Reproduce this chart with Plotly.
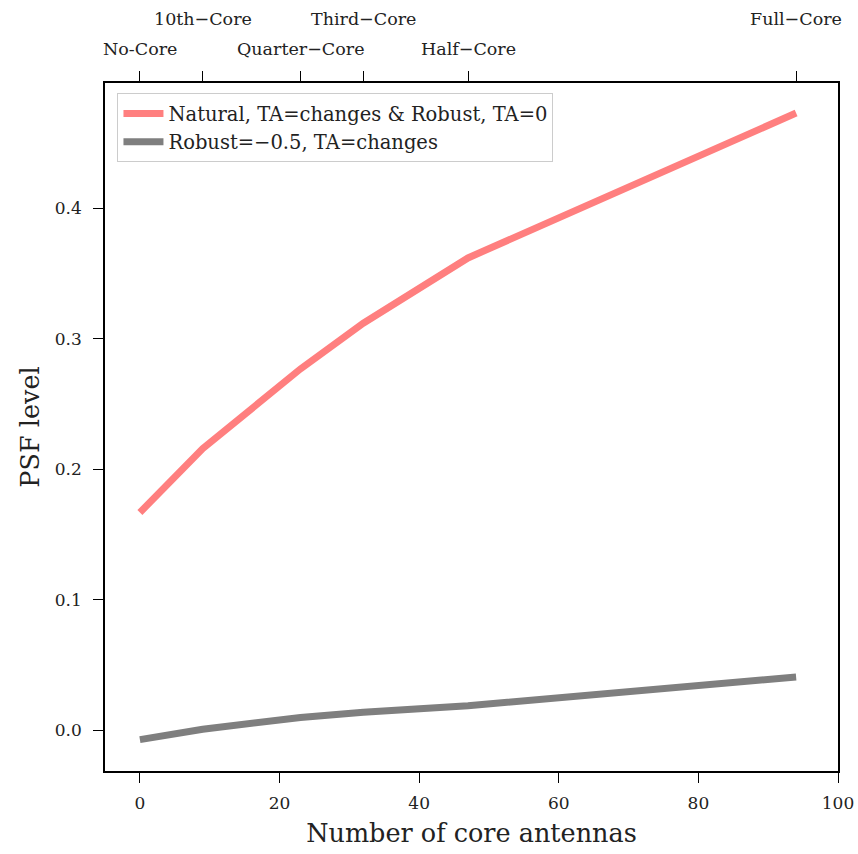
import plotly.graph_objects as go

# Number of core antennas at each configuration
n_core = [0, 9, 23, 32, 47, 94]
config_labels = ["No-Core", "10th\u2212Core", "Quarter\u2212Core", "Third\u2212Core", "Half\u2212Core", "Full\u2212Core"]

# PSF level for each weighting scheme
psf_natural = [0.167, 0.216, 0.277, 0.312, 0.362, 0.473]
psf_robust = [-0.007, 0.001, 0.010, 0.014, 0.019, 0.041]

series_names = ["Natural, TA=changes &amp; Robust, TA=0", "Robust=\u22120.5, TA=changes"]
series_colors = ["#ff7f7f", "#7f7f7f"]

FONT = "DejaVu Serif"

fig = go.Figure()
for yv, name, col in zip([psf_natural, psf_robust], series_names, series_colors):
    fig.add_trace(go.Scatter(x=n_core, y=yv, mode="lines", name=name,
                             line=dict(color=col, width=7)))

# invisible trace to activate the top axis
fig.add_trace(go.Scatter(x=n_core, y=psf_natural, xaxis="x2", mode="lines",
                         line=dict(width=0), showlegend=False, hoverinfo="skip",
                         opacity=0))

axis_common = dict(showline=True, linecolor="black", linewidth=1.5,
                   ticks="outside", ticklen=10, tickwidth=1.2, tickcolor="black",
                   showgrid=False, zeroline=False, automargin=False)
tick_font = dict(family=FONT, size=17, color="#222")

fig.update_layout(
    width=858, height=854,
    margin=dict(l=105, r=20, t=83, b=83),
    paper_bgcolor="white", plot_bgcolor="white",
    font=dict(family=FONT, color="#222"),
    xaxis=dict(range=[-5, 100], tickvals=[0, 20, 40, 60, 80, 100], tickfont=tick_font,
               ticklabelstandoff=6,
               title=dict(text="Number of core antennas", font=dict(size=25.5, family=FONT), standoff=12),
               mirror=True, **axis_common),
    xaxis2=dict(range=[-5, 100], overlaying="x", side="top", tickvals=n_core,
                showticklabels=False, anchor="y", **axis_common),
    yaxis=dict(range=[-0.031, 0.496], tickvals=[0.0, 0.1, 0.2, 0.3, 0.4], tickformat=".1f",
               tickfont=tick_font, ticklabelstandoff=8,
               title=dict(text="PSF level", font=dict(size=25.5, family=FONT), standoff=8),
               mirror=True, **axis_common),
    legend=dict(x=0.017, y=0.985, xanchor="left", yanchor="top",
                bgcolor="white", bordercolor="#cccccc", borderwidth=1,
                font=dict(family=FONT, size=19.5, color="#222"),
                tracegroupgap=2, itemwidth=40),
    showlegend=True,
)

# staggered configuration labels above the top axis
for i, (xv, lab) in enumerate(zip(n_core, config_labels)):
    upper = i % 2 == 1
    fig.add_annotation(x=xv, xref="x", y=1.0, yref="paper", text=lab, showarrow=False,
                       yanchor="bottom", yshift=52 if upper else 22,
                       font=dict(family=FONT, size=17.5, color="#222"))

fig.write_html("out.html")
